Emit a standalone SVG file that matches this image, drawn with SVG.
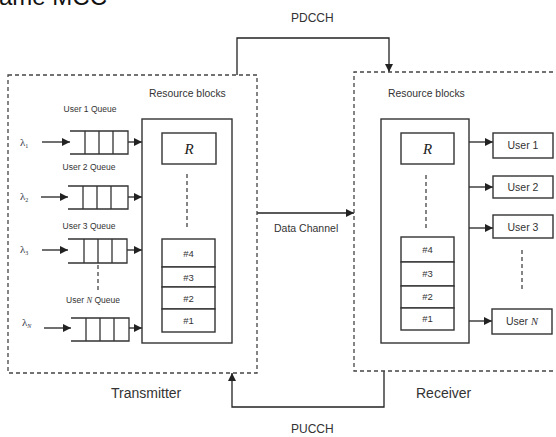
<svg xmlns="http://www.w3.org/2000/svg" width="556" height="437" viewBox="0 0 556 437">
<defs>
<marker id="ah" viewBox="0 0 10 10" refX="10" refY="5" markerWidth="9" markerHeight="8" markerUnits="userSpaceOnUse" orient="auto"><path d="M0,0 L10,5 L0,10 z" fill="#222"/></marker>
<style>
.dash{fill:none;stroke:#444;stroke-width:1.3;stroke-dasharray:4 3}
.box{fill:#fff;stroke:#333;stroke-width:1.4}
.ln{fill:none;stroke:#333;stroke-width:1.3}
.arr{fill:none;stroke:#222;stroke-width:1.3;marker-end:url(#ah)}
.vd{fill:none;stroke:#444;stroke-width:1.3;stroke-dasharray:4 3}
text{font-family:"Liberation Sans",Arial,sans-serif;fill:#333}
.sm{font-size:8.5px;text-anchor:middle}
.rb{font-size:10.4px}
.num{font-size:9.5px;text-anchor:middle}
.big{font-size:14px}
.lab{font-size:12px}
.usr{font-size:10.5px;text-anchor:middle}
.ser{font-family:"Liberation Serif","Times New Roman",serif;font-style:italic}
.lam{font-family:"Liberation Serif","Times New Roman",serif;font-size:11px;fill:#334}
</style>
</defs>
<rect width="556" height="437" fill="#fff"/>
<text x="-1" y="5" style="font-size:24px;fill:#111">ame MCC</text>

<g id="connectors">
<polyline class="arr" points="237,75 237,38 389,38 389,72"/>
<line class="arr" x1="257" y1="213" x2="354" y2="213"/>
<polyline class="arr" points="384,371 384,407 232,407 232,373"/>
<line class="arr" x1="42" y1="142" x2="70" y2="142"/>
<line class="arr" x1="41" y1="197" x2="68" y2="197"/>
<line class="arr" x1="42" y1="250" x2="68" y2="250"/>
<line class="arr" x1="44" y1="328" x2="71" y2="328"/>
<line class="arr" x1="128" y1="142" x2="142" y2="142"/>
<line class="arr" x1="128" y1="197" x2="142" y2="197"/>
<line class="arr" x1="127" y1="250" x2="142" y2="250"/>
<line class="arr" x1="129" y1="328" x2="142" y2="328"/>
<line class="arr" x1="469" y1="142" x2="493" y2="142"/>
<line class="arr" x1="469" y1="187" x2="493" y2="187"/>
<line class="arr" x1="469" y1="228" x2="493" y2="228"/>
<line class="arr" x1="469" y1="321" x2="492" y2="321"/>
</g>
<text class="lab" x="291" y="22">PDCCH</text>
<text style="font-size:10.5px" x="274" y="232">Data Channel</text>
<text class="lab" x="291" y="433">PUCCH</text>

<g id="transmitter">
<rect class="dash" x="8" y="75" width="249" height="298"/>
<text class="big" x="111" y="398">Transmitter</text>
<text class="rb" x="149" y="97">Resource blocks</text>
</g>

<g id="queue1">
<text class="sm" x="90" y="112">User 1 Queue</text>
<text class="lam" x="20" y="146">λ<tspan font-size="6" dy="2">1</tspan></text>
<path class="ln" d="M70,131 H128 V154 H70 M85,131 V154 M99,131 V154 M113,131 V154"/>
</g>
<g id="queue2">
<text class="sm" x="89" y="170">User 2 Queue</text>
<text class="lam" x="20" y="200">λ<tspan font-size="6" dy="2">2</tspan></text>
<path class="ln" d="M68,186 H128 V209 H68 M83,186 V209 M97,186 V209 M111,186 V209"/>
</g>
<g id="queue3">
<text class="sm" x="89" y="229">User 3 Queue</text>
<text class="lam" x="20" y="253">λ<tspan font-size="6" dy="2">3</tspan></text>
<path class="ln" d="M68,239 H127 V263 H68 M84,239 V263 M98,239 V263 M112,239 V263"/>
<line class="vd" x1="98" y1="265" x2="98" y2="290"/>
</g>
<g id="queueN">
<text class="sm" x="93" y="303">User <tspan class="ser">N</tspan> Queue</text>
<text class="lam" x="22" y="326">λ<tspan font-size="6" dy="2" class="ser">N</tspan></text>
<path class="ln" d="M71,318 H129 V341 H71 M86,318 V341 M100,318 V341 M114,318 V341"/>
</g>

<g id="tx-blocks">
<rect class="box" x="142" y="119" width="90" height="224"/>
<rect class="box" x="162" y="133" width="54" height="31"/>
<text class="ser" x="189" y="154" style="font-size:15px;text-anchor:middle;fill:#222">R</text>
<line class="vd" x1="187" y1="174" x2="187" y2="229"/>
<rect class="box" x="162" y="239" width="53" height="28"/>
<rect class="box" x="162" y="267" width="53" height="20"/>
<rect class="box" x="162" y="287" width="53" height="22"/>
<rect class="box" x="162" y="309" width="53" height="23"/>
<text class="num" x="188.5" y="257">#4</text>
<text class="num" x="188.5" y="281">#3</text>
<text class="num" x="188.5" y="302">#2</text>
<text class="num" x="188.5" y="324">#1</text>
</g>

<g id="receiver">
<path class="dash" d="M560,72 H354 V371 H560"/>
<text class="big" x="416" y="398">Receiver</text>
<text class="rb" x="388" y="97">Resource blocks</text>
</g>

<g id="rx-blocks">
<rect class="box" x="381" y="119" width="88" height="224"/>
<rect class="box" x="401" y="133" width="53" height="31"/>
<text class="ser" x="427.5" y="154" style="font-size:15px;text-anchor:middle;fill:#222">R</text>
<line class="vd" x1="426" y1="175" x2="426" y2="230"/>
<rect class="box" x="401" y="237" width="53" height="25"/>
<rect class="box" x="401" y="262" width="53" height="24"/>
<rect class="box" x="401" y="286" width="53" height="22"/>
<rect class="box" x="401" y="308" width="53" height="22"/>
<text class="num" x="427.5" y="253">#4</text>
<text class="num" x="427.5" y="277">#3</text>
<text class="num" x="427.5" y="300">#2</text>
<text class="num" x="427.5" y="322">#1</text>
</g>

<g id="user1"><rect class="box" x="493" y="133" width="60" height="25"/><text class="usr" x="523" y="149">User 1</text></g>
<g id="user2"><rect class="box" x="493" y="176" width="60" height="22"/><text class="usr" x="523" y="191">User 2</text></g>
<g id="user3"><rect class="box" x="493" y="215" width="60" height="23"/><text class="usr" x="523" y="231">User 3</text></g>
<line class="vd" x1="522" y1="250" x2="522" y2="290"/>
<g id="userN"><rect class="box" x="492" y="309" width="60" height="25"/><text class="usr" x="522" y="325">User <tspan class="ser">N</tspan></text></g>
</svg>
